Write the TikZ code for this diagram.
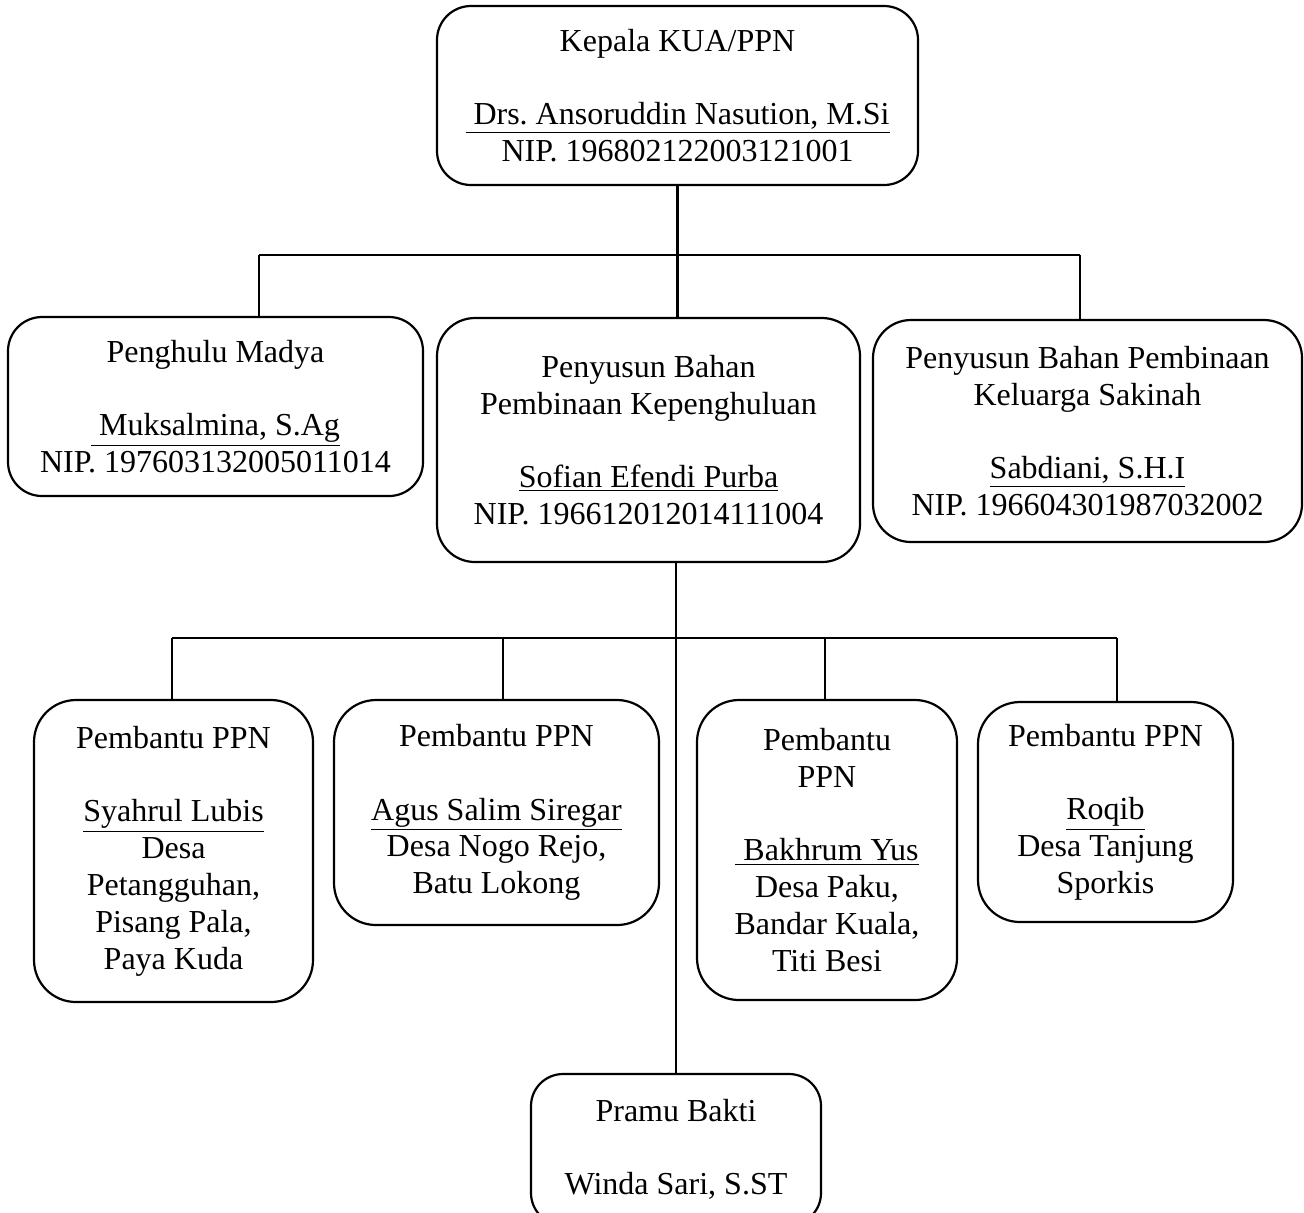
\documentclass[tikz,border=0pt]{standalone}
\usepackage{fontspec}
\setmainfont{Liberation Serif}
\usepackage{tikz}
\frenchspacing

\begin{document}
\begin{tikzpicture}[x=0.5pt,y=-0.5pt,line width=1.1pt,
box/.style={draw,rounded corners=17pt,align=center,inner sep=0pt,font=\fontsize{16}{18.4}\selectfont},
pbox/.style={box,rounded corners=21pt}]
\useasboundingbox(0,0)rectangle(1304,1212);
\node[box,minimum width=240.5pt,minimum height=89.5pt](kepala)at(677.5,95.5){Kepala KUA/PPN\\[18.4pt]\underline{\ Drs. Ansoruddin Nasution, M.Si}\\NIP. 196802122003121001};
\node[box,minimum width=207.5pt,minimum height=89.5pt](pengh)at(215.5,406.5){Penghulu Madya\\[18.4pt]\underline{\ Muksalmina, S.Ag}\\NIP. 197603132005011014};
\node[box,minimum width=211.5pt,minimum height=122pt,rounded corners=19pt](kepeng)at(648.5,440){Penyusun Bahan\\Pembinaan Kepenghuluan\\[18.4pt]\underline{Sofian Efendi Purba}\\NIP. 196612012014111004};
\node[box,minimum width=214.5pt,minimum height=111pt,rounded corners=19pt](sakinah)at(1087.5,431){Penyusun Bahan Pembinaan\\Keluarga Sakinah\\[18.4pt]\underline{Sabdiani, S.H.I}\\NIP. 196604301987032002};
\node[pbox,minimum width=139.5pt,minimum height=151pt](pb1)at(173.5,851){Pembantu PPN\\[18.4pt]\underline{Syahrul Lubis}\\Desa\\Petangguhan,\\Pisang Pala,\\Paya Kuda};
\node[pbox,minimum width=162.5pt,minimum height=112.5pt](pb2)at(496.5,812.5){Pembantu PPN\\[18.4pt]\underline{Agus Salim Siregar}\\Desa Nogo Rejo,\\Batu Lokong};
\node[pbox,minimum width=130pt,minimum height=150pt](pb3)at(827,850){Pembantu\\PPN\\[18.4pt]\underline{\ Bakhrum Yus}\\Desa Paku,\\Bandar Kuala,\\Titi Besi};
\node[pbox,minimum width=127.5pt,minimum height=110pt](pb4)at(1105.5,812){Pembantu PPN\\[18.4pt]\underline{Roqib}\\Desa Tanjung\\Sporkis};
\node[box,minimum width=145pt,minimum height=75.5pt,rounded corners=16pt](pramu)at(676,1149.5){Pramu Bakti\\[18.4pt]Winda Sari, S.ST};
\coordinate(b1l)at(259,255);\coordinate(b1r)at(1080,255);
\draw(kepala.south)--(kepala.south|-kepeng.north);
\draw(b1l)--(b1r);
\draw(b1l)--(b1l|-pengh.north);
\draw(b1r)--(b1r|-sakinah.north);
\coordinate(b2l)at(172,638);\coordinate(b2r)at(1117,638);
\draw(b2l)--(b2r);
\draw(pramu.north|-kepeng.south)--(pramu.north);
\foreach \x/\n in {172/pb1,503/pb2,825/pb3,1117/pb4}{
\coordinate(t)at(\x,638);
\draw(t)--(t|-\n.north);}
\end{tikzpicture}
\end{document}
